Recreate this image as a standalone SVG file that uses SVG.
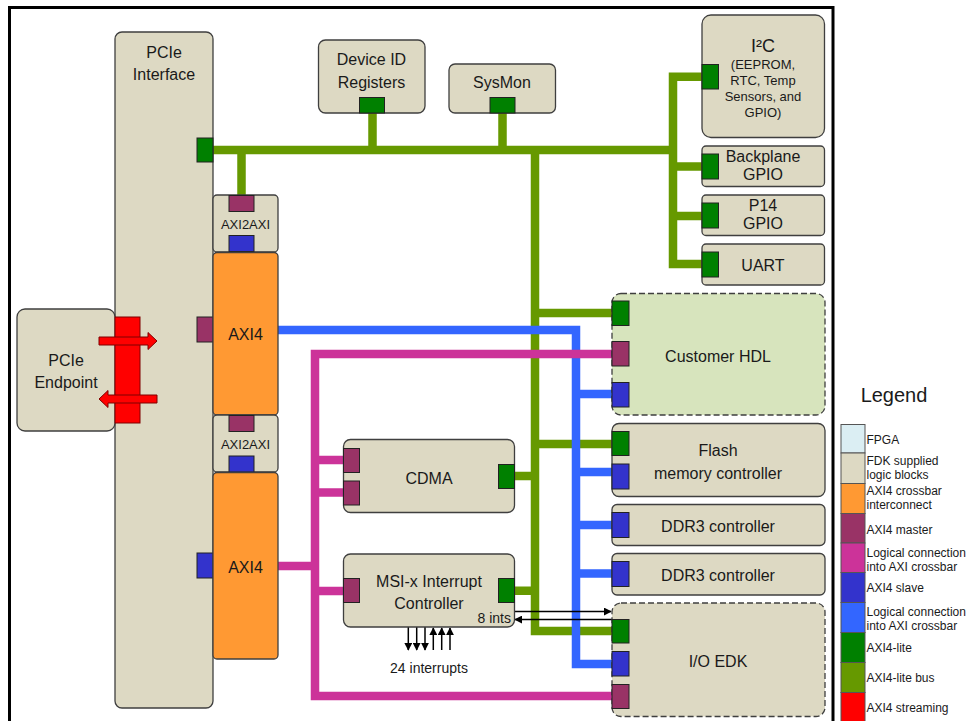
<svg xmlns="http://www.w3.org/2000/svg" width="971" height="721" viewBox="0 0 971 721">
<defs>
<style>
.box{fill:#ddd9c3;stroke:#3f3f3f;stroke-width:1.3}
.cust{fill:#d7e4bd;stroke:#3f3f3f;stroke-width:1.3;stroke-dasharray:6 3}
.edk{fill:#ddd9c3;stroke:#3f3f3f;stroke-width:1.3;stroke-dasharray:6 3}
.xbar{fill:#ff9933;stroke:#3f3f3f;stroke-width:1.3}
.pm{fill:#993366;stroke:#222;stroke-width:1}
.ps{fill:#3333cc;stroke:#222;stroke-width:1}
.pl{fill:#008000;stroke:#222;stroke-width:1}
.t{font-family:"Liberation Sans",Arial,sans-serif;font-size:16px;fill:#1a1a1a;text-anchor:middle}
.ts{font-family:"Liberation Sans",Arial,sans-serif;font-size:13px;fill:#1a1a1a;text-anchor:middle}
.tl{font-family:"Liberation Sans",Arial,sans-serif;font-size:12px;fill:#1a1a1a}
.gbus{fill:none;stroke:#669900;stroke-width:8.5;stroke-linejoin:miter}
.blu{fill:none;stroke:#3366ff;stroke-width:8.5;stroke-linejoin:miter}
.mag{fill:none;stroke:#cc3399;stroke-width:8.5;stroke-linejoin:miter}
.arr{fill:none;stroke:#000;stroke-width:1.5}
.red{fill:#ff0000;stroke:#7f0000;stroke-width:1}
</style>
<marker id="ah" viewBox="0 0 10 10" refX="9" refY="5" markerWidth="8" markerHeight="8" markerUnits="userSpaceOnUse" orient="auto">
<path d="M0,0 L10,5 L0,10 z" fill="#000"/>
</marker>
</defs>
<rect x="0" y="0" width="971" height="721" fill="#fff"/>
<rect id="fpga" x="9.5" y="7.5" width="823.5" height="740" fill="#fff" stroke="#000" stroke-width="3"/>

<g id="connectors">
<!-- green AXI4-lite bus -->
<path class="gbus" d="M213,150 H673 M241.5,150 V196 M372.5,113 V150 M502.5,113 V150 M673,166.5 H702 M673,216 H702"/>
<path class="gbus" d="M702,76.7 H673 V264 H702"/>
<path class="gbus" d="M535,150 V631 H612 M535,313 H612 M535,444 H612 M514,476 H535 M514,590.7 H535"/>
<!-- blue -->
<path class="blu" d="M278,330 H576 V664 H612 M576,394 H612 M576,472 H612 M576,525 H612 M576,573.5 H612"/>
<!-- magenta -->
<path class="mag" d="M278,566 H315 M612,354 H315 V696 H612 M315,460 H343 M315,492.5 H343 M315,591 H343"/>
<!-- interrupt arrows -->
<path class="arr" d="M514,611.5 H611" marker-end="url(#ah)"/>
<path class="arr" d="M612,619.5 H515" marker-end="url(#ah)"/>
<path class="arr" d="M408.3,627 V650" marker-end="url(#ah)"/>
<path class="arr" d="M416.7,627 V650" marker-end="url(#ah)"/>
<path class="arr" d="M425,627 V650" marker-end="url(#ah)"/>
<path class="arr" d="M433.3,650 V628" marker-end="url(#ah)"/>
<path class="arr" d="M441.7,650 V628" marker-end="url(#ah)"/>
<path class="arr" d="M450,650 V628" marker-end="url(#ah)"/>
</g>

<g id="pcie-interface">
<rect class="box" x="115" y="32" width="98" height="676" rx="7"/>
<text class="t" x="164" y="58">PCIe</text>
<text class="t" x="164" y="80">Interface</text>
<rect class="pl" x="197" y="138" width="16" height="24"/>
<rect class="pm" x="197" y="317" width="16" height="25"/>
<rect class="ps" x="197" y="553" width="16" height="25"/>
</g>

<g id="pcie-endpoint">
<rect class="box" x="17" y="309" width="98" height="122" rx="8"/>
<text class="t" x="66" y="366">PCIe</text>
<text class="t" x="66" y="388">Endpoint</text>
</g>

<g id="axi4-stream">
<rect class="red" x="115" y="317" width="25" height="106"/>
<path class="red" d="M99,337 H148 V332.5 L157,341 L148,349.5 V345 H99 Z"/>
<path class="red" d="M157,395 H108 V390.5 L99,399 L108,407.5 V403 H157 Z"/>
</g>

<g id="axi2axi-top">
<rect class="box" x="213" y="195" width="65" height="57" rx="4"/>
<text class="ts" x="245.5" y="229">AXI2AXI</text>
<rect class="pm" x="229" y="195.5" width="25" height="16"/>
<rect class="ps" x="229" y="235.5" width="25" height="16"/>
</g>

<g id="axi4-top">
<rect class="xbar" x="213" y="252.5" width="65" height="162.5" rx="4"/>
<text class="t" x="245.5" y="340">AXI4</text>
</g>

<g id="axi2axi-bottom">
<rect class="box" x="213" y="415" width="65" height="57" rx="4"/>
<text class="ts" x="245.5" y="449">AXI2AXI</text>
<rect class="pm" x="229" y="415.5" width="25" height="16"/>
<rect class="ps" x="229" y="456" width="25" height="16"/>
</g>

<g id="axi4-bottom">
<rect class="xbar" x="213" y="472.5" width="65" height="186.5" rx="4"/>
<text class="t" x="245.5" y="573">AXI4</text>
</g>

<g id="device-id">
<rect class="box" x="318.5" y="40" width="106.5" height="73" rx="7"/>
<text class="t" x="371.5" y="65">Device ID</text>
<text class="t" x="371.5" y="88">Registers</text>
<rect class="pl" x="359.5" y="97.5" width="25" height="15.5"/>
</g>

<g id="sysmon">
<rect class="box" x="449" y="64" width="106.5" height="49" rx="6"/>
<text class="t" x="502" y="88">SysMon</text>
<rect class="pl" x="490" y="97.5" width="25" height="15.5"/>
</g>

<g id="i2c">
<rect class="box" x="702" y="15" width="122.5" height="122.5" rx="9"/>
<text class="t" x="763" y="52" style="font-size:18px">I²C</text>
<text class="ts" x="763" y="69">(EEPROM,</text>
<text class="ts" x="763" y="85">RTC, Temp</text>
<text class="ts" x="763" y="101">Sensors, and</text>
<text class="ts" x="763" y="117">GPIO)</text>
<rect class="pl" x="702" y="64.5" width="16.5" height="24.5"/>
</g>

<g id="backplane-gpio">
<rect class="box" x="702" y="146" width="122.5" height="40.5" rx="4"/>
<text class="t" x="763" y="162">Backplane</text>
<text class="t" x="763" y="180">GPIO</text>
<rect class="pl" x="702" y="154" width="16.5" height="25"/>
</g>

<g id="p14-gpio">
<rect class="box" x="702" y="195" width="122.5" height="40.5" rx="4"/>
<text class="t" x="763" y="211">P14</text>
<text class="t" x="763" y="229">GPIO</text>
<rect class="pl" x="702" y="203" width="16.5" height="25"/>
</g>

<g id="uart">
<rect class="box" x="702" y="244" width="122.5" height="41" rx="4"/>
<text class="t" x="763" y="271">UART</text>
<rect class="pl" x="702" y="252" width="16.5" height="25"/>
</g>

<g id="customer-hdl">
<rect class="cust" x="612" y="293.5" width="213" height="121.5" rx="9"/>
<text class="t" x="718" y="362">Customer HDL</text>
<rect class="pl" x="612" y="301" width="17" height="24.5"/>
<rect class="pm" x="612" y="341.5" width="17" height="24.5"/>
<rect class="ps" x="612" y="382.5" width="17" height="24.5"/>
</g>

<g id="flash">
<rect class="box" x="612" y="423.5" width="213" height="73" rx="7"/>
<text class="t" x="718" y="456">Flash</text>
<text class="t" x="718" y="478.5">memory controller</text>
<rect class="pl" x="612" y="431.5" width="17" height="24"/>
<rect class="ps" x="612" y="464" width="17" height="25"/>
</g>

<g id="ddr3-1">
<rect class="box" x="612" y="504.5" width="213" height="41" rx="5"/>
<text class="t" x="718" y="532">DDR3 controller</text>
<rect class="ps" x="612" y="512.5" width="17" height="25"/>
</g>

<g id="ddr3-2">
<rect class="box" x="612" y="553.5" width="213" height="41.5" rx="5"/>
<text class="t" x="718" y="581">DDR3 controller</text>
<rect class="ps" x="612" y="561.5" width="17" height="25"/>
</g>

<g id="io-edk">
<rect class="edk" x="612" y="603" width="213" height="113.5" rx="9"/>
<text class="t" x="718" y="667">I/O EDK</text>
<rect class="pl" x="612" y="619.5" width="17" height="23.5"/>
<rect class="ps" x="612" y="651.5" width="17" height="24.5"/>
<rect class="pm" x="612" y="684.5" width="17" height="24"/>
</g>

<g id="cdma">
<rect class="box" x="343.5" y="439.5" width="171" height="73" rx="7"/>
<text class="t" x="429" y="484">CDMA</text>
<rect class="pm" x="343.5" y="448.5" width="16" height="24"/>
<rect class="pm" x="343.5" y="481" width="16" height="24"/>
<rect class="pl" x="498.5" y="464.5" width="16" height="24"/>
</g>

<g id="msi-x">
<rect class="box" x="343.5" y="554" width="171" height="73" rx="7"/>
<text class="t" x="429" y="587">MSI-x Interrupt</text>
<text class="t" x="429" y="608.5">Controller</text>
<rect class="pm" x="343.5" y="578.5" width="16" height="24"/>
<rect class="pl" x="498.5" y="578.5" width="16" height="24"/>
<text class="ts" x="511" y="623" style="text-anchor:end;font-size:14px">8 ints</text>
</g>

<g id="interrupts-label">
<text class="ts" x="429" y="673" style="font-size:14px">24 interrupts</text>
</g>

<g id="legend">
<text class="t" x="894" y="402" style="font-size:20px">Legend</text>
<g stroke="#555" stroke-width="1">
<rect x="841" y="424.5" width="24" height="28.5" fill="#dbeef3"/>
<rect x="841" y="453" width="24" height="30.5" fill="#ddd9c3"/>
<rect x="841" y="483.5" width="24" height="30" fill="#ff9933"/>
<rect x="841" y="513.5" width="24" height="29.5" fill="#993366"/>
<rect x="841" y="543" width="24" height="29.5" fill="#cc3399"/>
<rect x="841" y="572.5" width="24" height="30" fill="#3333cc"/>
<rect x="841" y="602.5" width="24" height="30" fill="#3366ff"/>
<rect x="841" y="632.5" width="24" height="30" fill="#008000"/>
<rect x="841" y="662.5" width="24" height="30" fill="#669900"/>
<rect x="841" y="692.5" width="24" height="35" fill="#ff0000"/>
</g>
<text class="tl" x="866.5" y="444">FPGA</text>
<text class="tl" x="866.5" y="464.5">FDK supplied</text>
<text class="tl" x="866.5" y="478.5">logic blocks</text>
<text class="tl" x="866.5" y="494.5">AXI4 crossbar</text>
<text class="tl" x="866.5" y="509">interconnect</text>
<text class="tl" x="866.5" y="534">AXI4 master</text>
<text class="tl" x="866.5" y="556.5">Logical connection</text>
<text class="tl" x="866.5" y="570.5">into AXI crossbar</text>
<text class="tl" x="866.5" y="592">AXI4 slave</text>
<text class="tl" x="866.5" y="615.5">Logical connection</text>
<text class="tl" x="866.5" y="629.5">into AXI crossbar</text>
<text class="tl" x="866.5" y="651.5">AXI4-lite</text>
<text class="tl" x="866.5" y="682">AXI4-lite bus</text>
<text class="tl" x="866.5" y="712">AXI4 streaming</text>
</g>
</svg>
